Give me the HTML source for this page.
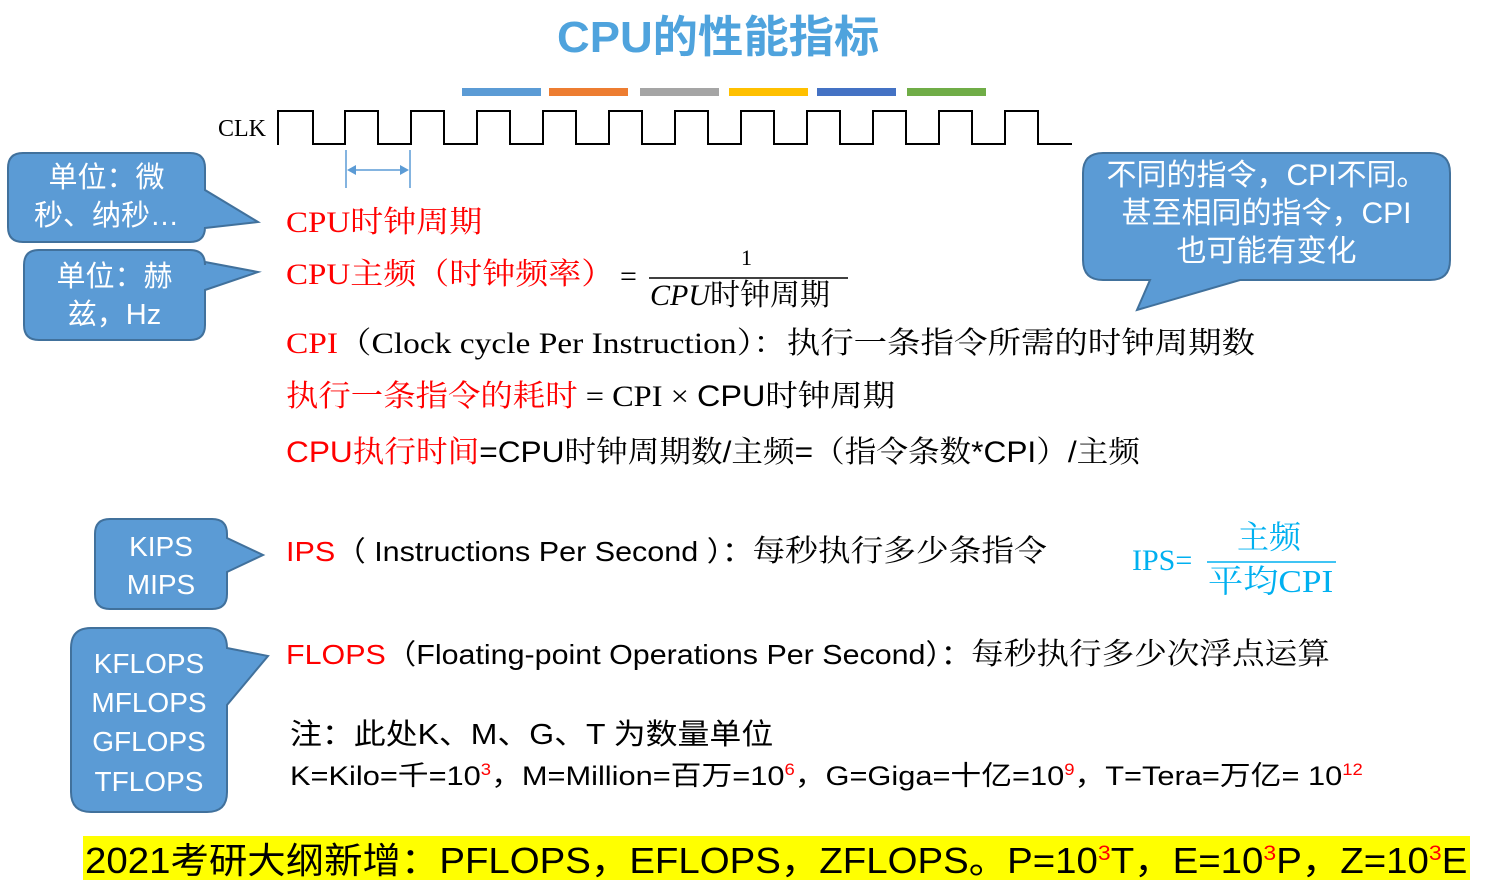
<!DOCTYPE html>
<html><head><meta charset="utf-8"><style>
body{margin:0;width:1499px;height:880px;overflow:hidden;background:#fff;position:relative;font-family:"Liberation Serif","Noto Serif CJK SC",serif}
.t{position:absolute;white-space:nowrap;line-height:1;transform-origin:0 0}
.s{font-family:"Liberation Sans","Noto Sans CJK SC",sans-serif}
.r{color:#f00}
.w{color:#fff;font-family:"Liberation Sans","Noto Sans CJK SC",sans-serif;text-align:center;position:absolute;line-height:1.3}
sup{font-size:60%;color:#f00;vertical-align:super;line-height:0}
</style></head><body>
<svg width="1499" height="880" style="position:absolute;left:0;top:0">
<g>
<rect x="462" y="88" width="79" height="8" fill="#5B9BD5"/>
<rect x="549" y="88" width="79" height="8" fill="#ED7D31"/>
<rect x="640" y="88" width="79" height="8" fill="#A5A5A5"/>
<rect x="729" y="88" width="79" height="8" fill="#FFC000"/>
<rect x="817" y="88" width="79" height="8" fill="#4472C4"/>
<rect x="907" y="88" width="79" height="8" fill="#70AD47"/>
</g>
<path d="M278 145 V111 H313 V144 H345 V111 H378 V144 H411 V111 H444 V144 H477 V111 H510 V144 H543 V111 H576 V144 H609 V111 H642 V144 H675 V111 H708 V144 H741 V111 H774 V144 H807 V111 H840 V144 H873 V111 H906 V144 H939 V111 H972 V144 H1005 V111 H1038 V144 H1072" fill="none" stroke="#000" stroke-width="2"/>
<line x1="346" y1="150" x2="346" y2="188" stroke="#5B9BD5" stroke-width="1.5"/>
<line x1="410" y1="150" x2="410" y2="188" stroke="#5B9BD5" stroke-width="1.5"/>
<line x1="352" y1="170" x2="404" y2="170" stroke="#5B9BD5" stroke-width="1.5"/>
<path d="M347 170 L356 165 L356 175Z M409 170 L400 165 L400 175Z" fill="#5B9BD5"/>
<g fill="#5B9BD5" stroke="#41719C" stroke-width="2">
<path d="M23 153 H190 Q205 153 205 168 V190 L258 222 L205 228 V227 Q205 242 190 242 H23 Q8 242 8 227 V168 Q8 153 23 153Z"/>
<path d="M39 250 H190 Q205 250 205 265 V262 L258 272 L205 290 V325 Q205 340 190 340 H39 Q24 340 24 325 V265 Q24 250 39 250Z"/>
<path d="M1103 153 H1430 Q1450 153 1450 173 V260 Q1450 280 1430 280 H1240 L1137 310 L1150 280 H1103 Q1083 280 1083 260 V173 Q1083 153 1103 153Z"/>
<path d="M110 519 H212 Q227 519 227 534 V538 L263 555 L227 572 V594 Q227 609 212 609 H110 Q95 609 95 594 V534 Q95 519 110 519Z"/>
<path d="M91 628 H207 Q227 628 227 648 V648 L268 656 L227 705 V792 Q227 812 207 812 H91 Q71 812 71 792 V648 Q71 628 91 628Z"/>
</g>
<line x1="649" y1="278" x2="848" y2="278" stroke="#000" stroke-width="1.5"/>
<line x1="1207" y1="562" x2="1336" y2="562" stroke="#00B0F0" stroke-width="1.5"/>
</svg>
<div class="t s" style="left:557px;top:16px;font-size:44px;color:#4FA3DD;font-weight:bold;transform:scaleX(1.03)">CPU的性能指标</div>
<div class="t" style="left:218px;top:117px;font-size:24px">CLK</div>
<div class="w" style="left:8px;top:160px;width:197px;font-size:29px">单位：微<br>秒、纳秒…</div>
<div class="w" style="left:24px;top:259px;width:181px;font-size:29px">单位：赫<br>兹，Hz</div>
<div class="w" style="left:1083px;top:157px;width:367px;font-size:30px;line-height:1.27">不同的指令，CPI不同。<br>甚至相同的指令，CPI<br>也可能有变化</div>
<div class="w" style="left:95px;top:528px;width:132px;font-size:28px;line-height:1.35">KIPS<br>MIPS</div>
<div class="w" style="left:71px;top:644px;width:156px;font-size:28px;line-height:1.4">KFLOPS<br>MFLOPS<br>GFLOPS<br>TFLOPS</div>
<div class="t r" style="left:286px;top:208px;font-size:30px;transform:scaleX(1.1)">CPU时钟周期</div>
<div class="t r" style="left:286px;top:260px;font-size:30px;transform:scaleX(1.1)">CPU主频（时钟频率）</div>
<div class="t" style="left:620px;top:262px;font-size:30px">=</div>
<div class="t" style="left:741px;top:247px;font-size:22px">1</div>
<div class="t" style="left:650px;top:281px;font-size:30px"><i>CPU</i>时钟周期</div>
<div class="t" style="left:286px;top:329px;font-size:30px;transform:scaleX(1.115)"><span class="r">CPI</span>（Clock cycle Per Instruction）：执行一条指令所需的时钟周期数</div>
<div class="t" style="left:286px;top:382px;font-size:30px;transform:scaleX(1.08)"><span class="r">执行一条指令的耗时</span> = CPI × <span class="s">CPU</span>时钟周期</div>
<div class="t" style="left:286px;top:438px;font-size:30px;transform:scaleX(1.054)"><span class="r s">CPU</span><span class="r">执行时间</span><span class="s">=CPU</span>时钟周期数<span class="s">/</span>主频<span class="s">=</span>（指令条数<span class="s">*CPI</span>）<span class="s">/</span>主频</div>
<div class="t s" style="left:286px;top:537px;font-size:28px;transform:scaleX(1.09)"><span class="r">IPS</span>（ Instructions Per Second ）：<span style="font-family:'Liberation Serif','Noto Serif CJK SC',serif;font-size:30px">每秒执行多少条指令</span></div>
<div class="t" style="left:1132px;top:546px;font-size:30px;color:#00B0F0">IPS=</div>
<div class="t" style="left:1237px;top:521px;font-size:32px;color:#00B0F0">主频</div>
<div class="t" style="left:1208px;top:565px;font-size:32px;color:#00B0F0;transform:scaleX(1.1)">平均CPI</div>
<div class="t s" style="left:286px;top:640px;font-size:28px;transform:scaleX(1.087)"><span class="r">FLOPS</span>（Floating-point Operations Per Second）：<span style="font-family:'Liberation Serif','Noto Serif CJK SC',serif;font-size:30px">每秒执行多少次浮点运算</span></div>
<div class="t s" style="left:290px;top:721px;font-size:29px;transform:scaleX(1.1)">注：此处K、M、G、T 为数量单位</div>
<div class="t s" style="left:290px;top:763px;font-size:27px;transform:scaleX(1.14)">K=Kilo=千=10<sup>3</sup>，M=Million=百万=10<sup>6</sup>，G=Giga=十亿=10<sup>9</sup>，T=Tera=万亿= 10<sup>12</sup></div>
<div style="position:absolute;left:83px;top:836px;width:1387px;height:44px;background:#FFFF00"></div>
<div class="t s" style="left:85px;top:843px;font-size:36px;transform:scaleX(1.067)">2021考研大纲新增：PFLOPS，EFLOPS，ZFLOPS。P=10<sup>3</sup>T，E=10<sup>3</sup>P，Z=10<sup>3</sup>E</div>
</body></html>
